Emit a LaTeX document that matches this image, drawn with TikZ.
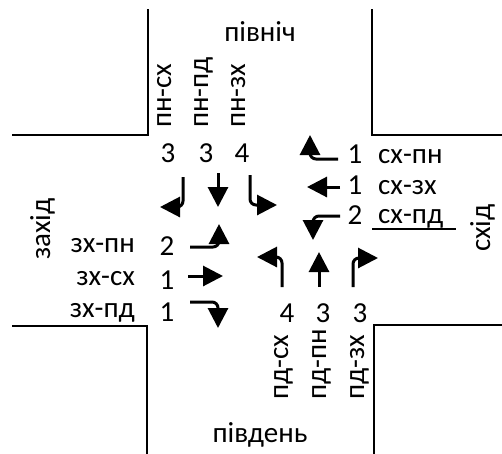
\documentclass[tikz,border=0pt]{standalone}
\usepackage{fontspec}
\setmainfont{Carlito}
\usetikzlibrary{arrows.meta}
\tikzset{
  lbl/.style={font=\fontsize{29}{34}\selectfont, inner sep=0pt},
  road/.style={line width=2pt, line cap=rect},
  mv/.style={line width=3pt, -{Triangle[length=20pt,width=20pt]}, rounded corners=6pt}
}
\begin{document}
\begin{tikzpicture}[x=1pt,y=-1pt]
\useasboundingbox (0,0) rectangle (502,453);
% road edges
\draw[road] (13,135) -- (148,135) -- (148,10);
\draw[road] (372,10) -- (372,135) -- (502,135);
\draw[road] (13,326) -- (147,326) -- (147,453);
\draw[road] (374,453) -- (374,325) -- (502,325);
\draw[line width=1.5pt] (372,229) -- (456,229);
% directions
\node[lbl, anchor=base] (n) at (260,41) {північ};
\node[lbl, anchor=base] (s) at (260,442) {південь};
\node[lbl, anchor=base, rotate=90] (w) at (50,229) {захід};
\node[lbl, anchor=base, rotate=90] (e) at (490,228) {схід};
% north
\node[lbl, anchor=base west, rotate=90] (nl1) at (171,128) {пн-сх};
\node[lbl, anchor=base west, rotate=90] (nl2) at (208,128) {пн-пд};
\node[lbl, anchor=base west, rotate=90] (nl3) at (245,128) {пн-зх};
\node[lbl, anchor=base] (nn1) at (168,162) {3};
\node[lbl, anchor=base] (nn2) at (206,162) {3};
\node[lbl, anchor=base] (nn3) at (242,162) {4};
\draw[mv] (183,177) -- (183,207) -- (160,207);
\draw[mv] (218,173) -- (218,207);
\draw[mv] (250,175) -- (250,205) -- (277,205);
% east
\node[lbl, anchor=base] (en1) at (355,163) {1};
\node[lbl, anchor=base] (en2) at (355,194) {1};
\node[lbl, anchor=base] (en3) at (355,224) {2};
\node[lbl, anchor=base west] (el1) at (378,163) {сх-пн};
\node[lbl, anchor=base west] (el2) at (378,194) {сх-зх};
\node[lbl, anchor=base west] (el3) at (378,223) {сх-пд};
\draw[mv] (338,159) -- (310,159) -- (310,135);
\draw[mv] (340,187) -- (307,187);
\draw[mv] (340,216) -- (313,216) -- (313,240);
% west
\node[lbl, anchor=base east] (wl1) at (135,252) {зх-пн};
\node[lbl, anchor=base east] (wl2) at (135,285) {зх-сх};
\node[lbl, anchor=base east] (wl3) at (135,317) {зх-пд};
\node[lbl, anchor=base] (wn1) at (167,255) {2};
\node[lbl, anchor=base] (wn2) at (167,289) {1};
\node[lbl, anchor=base] (wn3) at (167,321) {1};
\draw[mv] (190,247) -- (219,247) -- (219,224);
\draw[mv] (188,276) -- (223,276);
\draw[mv] (190,302) -- (218,302) -- (218,328);
% south
\node[lbl, anchor=base] (sn1) at (287,322) {4};
\node[lbl, anchor=base] (sn2) at (323,322) {3};
\node[lbl, anchor=base] (sn3) at (360,322) {3};
\node[lbl, anchor=base west, rotate=90] (sl1) at (288,400) {пд-сх};
\node[lbl, anchor=base west, rotate=90] (sl2) at (326,400) {пд-пн};
\node[lbl, anchor=base west, rotate=90] (sl3) at (364,400) {пд-зх};
\draw[mv] (282,287) -- (282,257) -- (257,257);
\draw[mv] (319,287) -- (319,252);
\draw[mv] (353,287) -- (353,258) -- (378,258);
\end{tikzpicture}
\end{document}
